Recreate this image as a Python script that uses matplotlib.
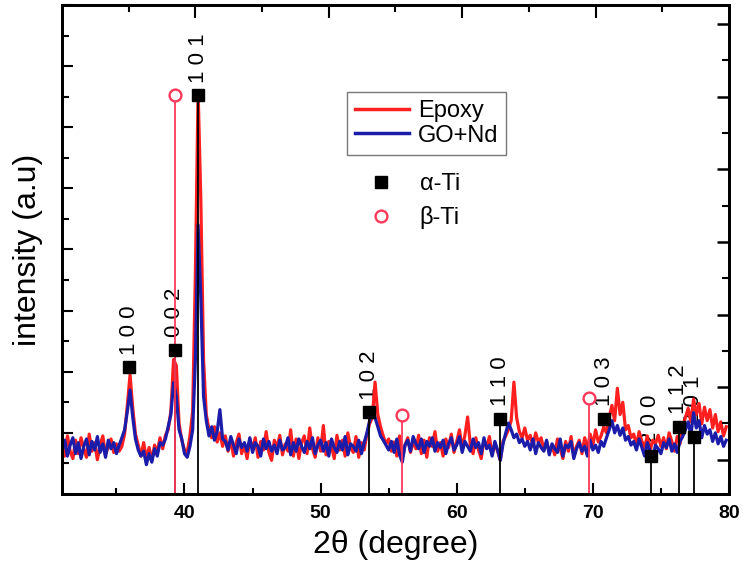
import numpy as np
import matplotlib
matplotlib.use('Agg')
import matplotlib.pyplot as plt
from matplotlib.lines import Line2D
from matplotlib.ticker import MultipleLocator, FixedLocator, NullFormatter

plt.rcParams['font.family'] = ['Liberation Sans', 'DejaVu Sans']

# ---------------- data ----------------
x_start, x_step = 31.0, 0.2

epoxy = [
    0.85, 0.62, 0.95, 0.70, 0.58, 0.88, 0.66, 0.92, 0.74, 0.60,   # 31.0
    0.98, 0.70, 0.84, 0.56, 0.80, 0.95, 0.64, 0.78, 0.90, 0.68,   # 33.0
    0.82, 0.70, 0.78, 0.98, 1.45, 1.95, 1.40, 0.98, 0.80, 0.62,   # 35.0
    0.84, 0.58, 0.76, 0.55, 0.80, 0.68, 0.92, 0.74, 0.96, 1.05,   # 37.0
    1.35, 2.20, 2.10, 1.15, 0.88, 0.72, 0.68, 0.95, 1.35, 3.60,   # 39.0
    6.60, 4.80, 2.20, 1.30, 1.05, 0.92, 1.10, 0.85, 1.00, 0.78,   # 41.0
    0.95, 0.70, 0.88, 0.62, 0.84, 0.98, 0.66, 0.80, 0.58, 0.90,   # 43.0
    0.74, 0.92, 0.60, 0.86, 0.72, 1.02, 0.68, 0.55, 0.88, 0.76,   # 45.0
    0.96, 0.64, 0.82, 0.70, 1.05, 0.62, 0.90, 0.58, 0.84, 0.95,   # 47.0
    0.66, 1.08, 0.74, 0.60, 0.92, 0.70, 1.12, 0.64, 0.86, 0.78,   # 49.0
    0.58, 0.96, 0.72, 0.88, 0.62, 1.00, 0.76, 0.68, 0.94, 0.60,   # 51.0
    0.84, 0.72, 0.98, 1.15, 1.25, 1.83, 1.30, 1.10, 0.95, 0.82,   # 53.0
    0.90, 0.70, 0.85, 0.62, 0.95, 0.58, 0.80, 0.92, 0.68, 0.86,   # 55.0
    0.74, 0.96, 0.66, 0.88, 0.60, 0.92, 0.78, 1.02, 0.70, 0.84,   # 57.0
    0.62, 0.90, 0.76, 0.98, 0.68, 0.86, 1.05, 0.74, 0.96, 1.26,   # 59.0
    0.80, 0.66, 0.92, 0.72, 0.58, 0.88, 0.76, 0.94, 0.64, 0.82,   # 61.0
    0.70, 0.55, 0.86, 0.95, 1.05, 1.20, 1.83, 1.25, 1.02, 0.92,   # 63.0
    1.08, 0.88, 0.96, 0.78, 1.00, 0.84, 0.92, 0.72, 0.86, 0.68,   # 65.0
    0.80, 0.64, 0.90, 0.74, 0.58, 0.86, 0.70, 0.94, 0.62, 0.78,   # 67.0
    0.88, 0.66, 0.92, 0.74, 0.98, 0.80, 1.05, 0.85, 0.95, 1.10,   # 69.0
    1.00, 1.25, 1.45, 1.20, 1.73, 1.30, 1.50, 1.05, 1.12, 0.92,   # 71.0
    0.98, 0.80, 1.02, 0.86, 0.76, 0.95, 0.70, 0.88, 0.82, 0.96,   # 73.0
    0.78, 0.92, 0.74, 1.00, 0.86, 0.70, 0.94, 0.82, 1.10, 1.25,   # 75.0
    1.40, 1.18, 1.55, 1.30, 1.48, 1.15, 1.42, 1.20, 1.38, 1.08,   # 77.0
    1.30, 1.02, 1.18, 0.95, 1.10,                                 # 79.0
]

go_nd = [
    0.70, 0.88, 0.62, 0.80, 0.92, 0.66, 0.84, 0.58, 0.78, 0.90,   # 31.0
    0.64, 0.86, 0.72, 0.94, 0.68, 0.82, 0.60, 0.88, 0.74, 0.84,   # 33.0
    0.66, 0.80, 0.92, 1.05, 1.35, 1.70, 1.25, 0.90, 0.72, 0.62,   # 35.0
    0.70, 0.48, 0.66, 0.52, 0.74, 0.62, 0.84, 0.80, 0.90, 1.10,   # 37.0
    1.30, 1.82, 1.60, 1.05, 0.90, 0.66, 0.60, 0.78, 1.05, 2.20,   # 39.0
    4.40, 3.20, 1.60, 1.20, 0.95, 1.10, 0.88, 1.02, 1.38, 0.90,   # 41.0
    0.86, 0.72, 0.94, 0.80, 0.66, 0.90, 0.76, 0.84, 0.70, 0.92,   # 43.0
    0.68, 0.84, 0.78, 0.62, 0.90, 0.74, 0.86, 0.70, 0.80, 0.66,   # 45.0
    0.88, 0.72, 0.76, 0.92, 0.64, 0.84, 0.70, 0.90, 0.78, 0.68,   # 47.0
    0.86, 0.74, 0.92, 0.66, 0.80, 0.88, 0.70, 0.84, 0.62, 0.90,   # 49.0
    0.76, 0.68, 0.86, 0.72, 0.94, 0.64, 0.82, 0.78, 0.70, 0.88,   # 51.0
    0.66, 0.84, 1.00, 1.20, 1.40, 1.25, 1.10, 0.95, 0.88, 0.80,   # 53.0
    0.72, 0.86, 0.68, 0.90, 0.64, 0.52, 0.80, 0.88, 0.70, 0.94,   # 55.0
    0.82, 0.74, 0.90, 0.68, 0.86, 0.78, 0.92, 0.70, 0.84, 0.76,   # 57.0
    0.88, 0.66, 0.82, 0.92, 0.72, 0.80, 0.94, 0.68, 0.86, 0.78,   # 59.0
    0.70, 0.90, 0.76, 0.84, 0.66, 0.92, 0.74, 0.80, 0.62, 0.86,   # 61.0
    0.72, 0.55, 0.82, 1.00, 1.16, 1.05, 0.92, 0.98, 0.84, 0.90,   # 63.0
    0.78, 0.86, 0.72, 0.90, 0.66, 0.84, 0.76, 0.70, 0.88, 0.64,   # 65.0
    0.82, 0.74, 0.68, 0.90, 0.62, 0.80, 0.76, 0.86, 0.58, 0.74,   # 67.0
    0.84, 0.70, 0.78, 0.62, 0.88, 0.72, 0.80, 0.68, 0.86, 0.78,   # 69.0
    0.92, 1.05, 1.20, 1.00, 1.12, 0.96, 1.08, 0.88, 0.94, 0.80,   # 71.0
    0.86, 0.72, 0.90, 0.76, 0.62, 0.84, 0.70, 0.58, 0.80, 0.74,   # 73.0
    0.66, 0.84, 0.76, 0.90, 0.70, 0.82, 0.68, 0.86, 0.94, 1.05,   # 75.0
    1.18, 0.96, 1.33, 1.08, 1.20, 0.92, 1.12, 0.98, 1.05, 0.86,   # 77.0
    1.00, 0.82, 0.94, 0.78, 0.88,                                 # 79.0
]

two_theta = np.round(x_start + x_step * np.arange(len(epoxy)), 2)

alpha_pos = [35.93, 39.30, 41.00, 53.57, 63.20, 70.85, 74.24, 76.30, 77.40]
alpha_int = [2.07, 2.36, 6.52, 1.34, 1.23, 1.23, 0.62, 1.10, 0.93]
alpha_stick = [False, True, True, True, True, False, True, True, True]
alpha_hkl = ['1 0 0', '0 0 2', '1 0 1', '1 0 2', '1 1 0', '1 0 3', '2 0 0', '1 1 2', '2 0 1']

beta_pos = [39.30, 56.00, 69.75]
beta_int = [6.52, 1.30, 1.57]

x_ticks = [40, 50, 60, 70, 80]

# ---------------- style ----------------
RED = '#ff1f1f'
BLUE = '#1c1caa'
PINK = '#ff3a5c'

fig = plt.figure(figsize=(7.45, 5.75), dpi=100)
ax = fig.add_axes([0.0832, 0.1409, 0.8953, 0.8504])

# hkl labels (under the data)
for xp, yp, lab in zip(alpha_pos, alpha_int, alpha_hkl):
    ax.annotate(lab, (xp, yp), xytext=(0, 9), textcoords='offset points',
                rotation=90, ha='center', va='bottom', fontsize=16, zorder=1)

ax.plot(two_theta, epoxy, color=RED, lw=2.3, zorder=2)
ax.plot(two_theta, go_nd, color=BLUE, lw=2.3, zorder=3)

# reference sticks
for xp, yp, st in zip(alpha_pos, alpha_int, alpha_stick):
    if st:
        ax.vlines(xp, 0, yp, color='black', lw=1.3, zorder=4)
ax.vlines(beta_pos, 0, beta_int, color=PINK, lw=1.3, zorder=4)

ax.plot(alpha_pos, alpha_int, 's', color='black', ms=9, ls='none', zorder=5)
ax.plot(beta_pos, beta_int, 'o', mfc='white', mec=PINK, mew=1.7, ms=8.5, ls='none', zorder=5)

ax.set_xlim(31, 80)
ax.set_ylim(0, 8)

ax.xaxis.set_major_locator(FixedLocator(x_ticks))
ax.xaxis.set_minor_locator(MultipleLocator(5))
ax.yaxis.set_major_locator(MultipleLocator(1))
ax.yaxis.set_minor_locator(MultipleLocator(0.5))
ax.yaxis.set_major_formatter(NullFormatter())
ax.tick_params(axis='both', which='both', direction='in', top=False, right=False, width=1.5)
ax.tick_params(axis='x', which='major', length=8, labelsize=14, pad=8)
ax.tick_params(axis='x', which='minor', length=4)
ax.tick_params(axis='y', which='major', length=8)
ax.tick_params(axis='y', which='minor', length=5)
for lbl in ax.get_xticklabels():
    lbl.set_fontweight('bold')
for sp in ax.spines.values():
    sp.set_linewidth(2.0)

ax.set_xlabel('2θ (degree)', fontsize=23, labelpad=6)
ax.set_ylabel('intensity (a.u)', fontsize=23, labelpad=10)

# secondary (reference-pattern) axes: ticks only
ax_r = ax.twinx()
ax_r.set_ylim(0, 1)
r_major = [0.961 - 0.1485 * k for k in range(7)]
r_minor = [m - 0.07425 for m in r_major if m - 0.07425 > 0.01]
ax_r.yaxis.set_major_locator(FixedLocator(r_major))
ax_r.yaxis.set_minor_locator(FixedLocator(r_minor))
ax_r.yaxis.set_major_formatter(NullFormatter())
ax_r.tick_params(axis='y', which='major', direction='in', length=9, width=1.8)
ax_r.tick_params(axis='y', which='minor', direction='in', length=5, width=1.5)

ax_t = ax.twiny()
ax_t.set_xlim(0, 1)
ax_t.xaxis.set_major_locator(FixedLocator([0.2, 0.4, 0.6, 0.8]))
ax_t.xaxis.set_minor_locator(FixedLocator([0.1, 0.3, 0.5, 0.7, 0.9]))
ax_t.xaxis.set_major_formatter(NullFormatter())
ax_t.tick_params(axis='x', which='major', direction='in', length=9, width=1.5)
ax_t.tick_params(axis='x', which='minor', direction='in', length=5, width=1.5)
for a in (ax_r, ax_t):
    for sp in a.spines.values():
        sp.set_linewidth(2.0)

# legends
h1 = [Line2D([], [], color=RED, lw=2.5), Line2D([], [], color=BLUE, lw=2.5)]
leg1 = ax_t.legend(h1, ['Epoxy', 'GO+Nd'], loc='upper left', bbox_to_anchor=(0.427, 0.822),
                   bbox_transform=ax.transAxes, fontsize=17, frameon=True, fancybox=False,
                   edgecolor='#555555', handlelength=2.3, handletextpad=0.35,
                   borderpad=0.35, labelspacing=0.1, borderaxespad=0)
leg1.get_frame().set_linewidth(1.0)
ax_t.add_artist(leg1)

h2 = [Line2D([], [], marker='s', color='black', ms=9, ls='none'),
      Line2D([], [], marker='o', mfc='white', mec=PINK, mew=1.7, ms=8.5, ls='none')]
ax_t.legend(h2, ['α-Ti', 'β-Ti'], loc='upper left', bbox_to_anchor=(0.437, 0.675),
            bbox_transform=ax.transAxes, fontsize=17, frameon=False,
            handlelength=1.5, handletextpad=0.9, labelspacing=0.45, borderaxespad=0)

fig.savefig('out.png', dpi=100)
